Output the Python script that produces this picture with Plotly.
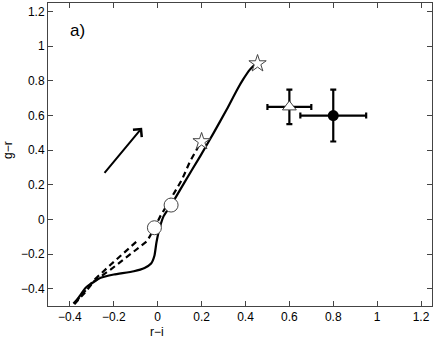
import plotly.graph_objects as go

# solid track (r-i, g-r)
solid_x = [-0.384, -0.36, -0.328, -0.26, -0.2, -0.109, -0.06, -0.03, -0.015, -0.006, 0.005, 0.027, 0.061, 0.12, 0.194, 0.255, 0.315, 0.36, 0.39, 0.42, 0.451]
solid_y = [-0.486, -0.45, -0.395, -0.337, -0.318, -0.299, -0.28, -0.255, -0.21, -0.135, -0.068, 0.019, 0.083, 0.21, 0.366, 0.50, 0.636, 0.745, 0.81, 0.865, 0.905]

# dashed tracks
dash_a_x = [-0.38, -0.33, -0.29, -0.215, -0.139, -0.048, -0.015, 0.012, 0.06, 0.111, 0.148, 0.2]
dash_a_y = [-0.49, -0.42, -0.357, -0.29, -0.215, -0.125, -0.05, 0.019, 0.12, 0.231, 0.337, 0.453]
dash_b_x = [-0.375, -0.33, -0.29, -0.215, -0.15, -0.086]
dash_b_y = [-0.48, -0.41, -0.35, -0.262, -0.19, -0.116]

# end markers
star_x = [0.2, 0.455]
star_y = [0.45, 0.9]
circ_x = [-0.015, 0.061]
circ_y = [-0.048, 0.083]

# observed points with errors
tri_x, tri_y, tri_ex, tri_ey = [0.6], [0.65], [0.1], [0.1]
dot_x, dot_y, dot_ex, dot_ey = [0.8], [0.6], [0.15], [0.15]

# reddening arrow
arrow_tail = (-0.248, 0.26)
arrow_head = (-0.071, 0.53)

xticks = [-0.4, -0.2, 0, 0.2, 0.4, 0.6, 0.8, 1, 1.2]
yticks = [-0.4, -0.2, 0, 0.2, 0.4, 0.6, 0.8, 1, 1.2]

W, H = 436, 340
L, R, T, B = 48, 4, 3, 34
pw, ph = W - L - R, H - T - B

fig = go.Figure()
fig.add_trace(go.Scatter(x=dash_b_x, y=dash_b_y, mode="lines",
                         line=dict(color="black", width=2.2, dash="6px,4px")))
fig.add_trace(go.Scatter(x=dash_a_x, y=dash_a_y, mode="lines",
                         line=dict(color="black", width=2.2, dash="6px,4px")))
fig.add_trace(go.Scatter(x=solid_x, y=solid_y, mode="lines",
                         line=dict(color="black", width=2.2, shape="spline", smoothing=0.5)))
fig.add_trace(go.Scatter(x=circ_x, y=circ_y, mode="markers",
                         marker=dict(symbol="circle", size=14, color="white",
                                     line=dict(color="#444", width=1))))
fig.add_trace(go.Scatter(x=star_x, y=star_y, mode="markers",
                         marker=dict(symbol="star", size=13, color="white",
                                     line=dict(color="#444", width=1))))
fig.add_trace(go.Scatter(x=tri_x, y=tri_y, mode="markers",
                         error_x=dict(type="data", array=tri_ex, color="black", thickness=2.2, width=3),
                         error_y=dict(type="data", array=tri_ey, color="black", thickness=2.2, width=3),
                         marker=dict(symbol="triangle-up", size=12, color="white",
                                     line=dict(color="#444", width=1))))
fig.add_trace(go.Scatter(x=dot_x, y=dot_y, mode="markers",
                         error_x=dict(type="data", array=dot_ex, color="black", thickness=2.2, width=3),
                         error_y=dict(type="data", array=dot_ey, color="black", thickness=2.2, width=3),
                         marker=dict(symbol="circle", size=11, color="black")))

fig.add_annotation(x=arrow_head[0], y=arrow_head[1], ax=arrow_tail[0], ay=arrow_tail[1],
                   xref="x", yref="y", axref="x", ayref="y", text="",
                   showarrow=True, arrowhead=4, arrowsize=1.1, arrowwidth=2, arrowcolor="black")
fig.add_annotation(x=-0.365, y=1.09, xref="x", yref="y", text="a)", showarrow=False,
                   font=dict(size=17, color="black"))
# axis titles, positioned from pixel spots in the plot box
fig.add_annotation(x=(157 - L) / pw, y=-(332 - (H - B)) / ph, xref="paper", yref="paper",
                   text="r\u2212i", showarrow=False, xanchor="center", yanchor="middle",
                   font=dict(size=12, color="black"))
fig.add_annotation(x=-(L - 8) / pw, y=(H - B - 150) / ph, xref="paper", yref="paper",
                   text="g\u2212r", textangle=-90, showarrow=False, xanchor="center", yanchor="middle",
                   font=dict(size=12, color="black"))

axis_style = dict(showgrid=False, zeroline=False, showline=True, mirror="ticks",
                  linecolor="#444", linewidth=1, ticks="inside", ticklen=5, automargin=False,
                  tickcolor="#444", tickfont=dict(size=12, color="black"))
fig.update_xaxes(range=[-0.5, 1.25], tickvals=xticks,
                 ticktext=[f"{v:g}".replace("-", "\u2212") for v in xticks], **axis_style)
fig.update_yaxes(range=[-0.5, 1.25], tickvals=yticks,
                 ticktext=[f"{v:g}".replace("-", "\u2212") for v in yticks], **axis_style)

fig.update_layout(width=W, height=H, showlegend=False,
                  margin=dict(l=L, r=R, t=T, b=B, autoexpand=False),
                  plot_bgcolor="white", paper_bgcolor="white",
                  font=dict(family="Liberation Sans, Arial, sans-serif"))
fig.write_html("out.html", config={"displayModeBar": False},
               post_script="document.body.style.margin='0px';")
